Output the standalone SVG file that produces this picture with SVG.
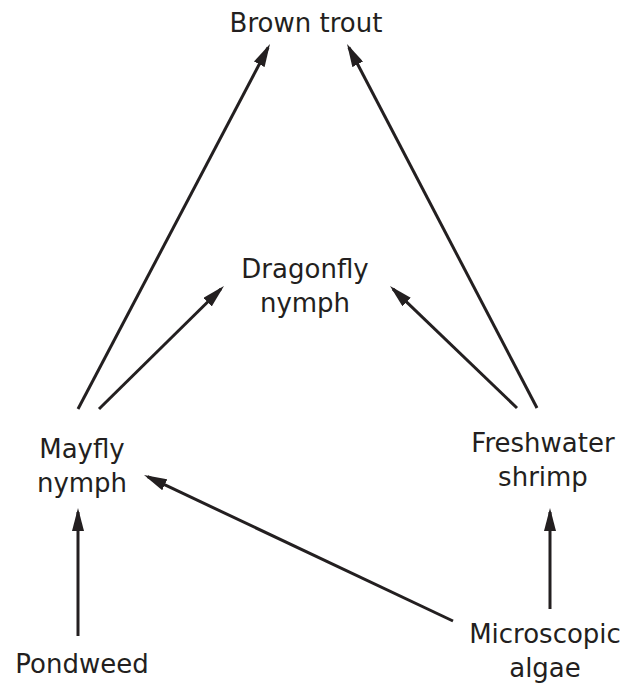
<svg xmlns="http://www.w3.org/2000/svg" width="624" height="687" viewBox="0 0 624 687">
<style>
text{font-family:"DejaVu Sans","Liberation Sans",sans-serif;font-size:26px;fill:#231f20;text-anchor:middle}
.c line{stroke:#231f20;stroke-width:3;fill:none;marker-end:url(#ah)}
</style>
<defs>
<marker id="ah" markerUnits="userSpaceOnUse" markerWidth="23" markerHeight="12" refX="19" refY="6" orient="auto">
<path d="M0,0 L23,6 L0,12 z" fill="#231f20"/>
</marker>
</defs>
<rect width="624" height="687" fill="#fff"/>
<g id="brown-trout"><text x="306" y="32">Brown trout</text></g>
<g id="dragonfly-nymph"><text x="305" y="278">Dragonfly</text><text x="305" y="312">nymph</text></g>
<g id="mayfly-nymph"><text x="82" y="458">Mayfly</text><text x="82" y="492">nymph</text></g>
<g id="freshwater-shrimp"><text x="543" y="452">Freshwater</text><text x="543" y="486">shrimp</text></g>
<g id="pondweed"><text x="82" y="673">Pondweed</text></g>
<g id="microscopic-algae"><text x="545" y="643">Microscopic</text><text x="545" y="677">algae</text></g>
<g class="c" id="connectors">
<line x1="78" y1="409" x2="268.1" y2="47.5"/>
<line x1="99" y1="409" x2="221.1" y2="288.8"/>
<line x1="537" y1="408" x2="348.9" y2="47.5"/>
<line x1="517" y1="408" x2="392.9" y2="288.8"/>
<line x1="78" y1="636" x2="78" y2="512"/>
<line x1="550" y1="609" x2="550" y2="512"/>
<line x1="453" y1="621" x2="147.6" y2="476.7"/>
</g>
</svg>
